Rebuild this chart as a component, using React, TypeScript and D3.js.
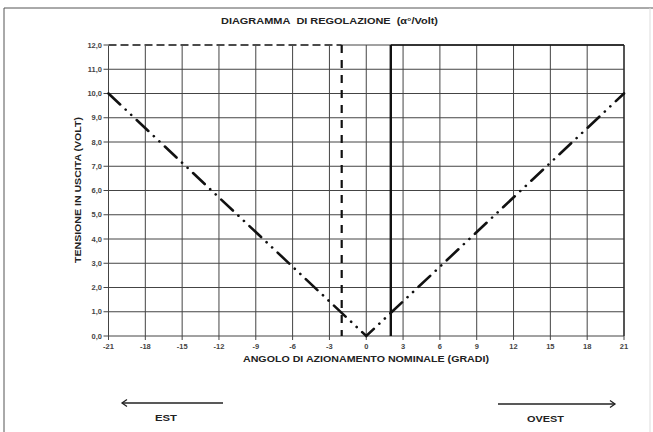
import React from 'react';
import * as d3 from 'd3';

// angle (degrees) -> output voltage, the V shaped characteristic
const curveAngles = [-21, 0, 21];
const curveVolts = [10, 0, 10];

const xTicks = [-21, -18, -15, -12, -9, -6, -3, 0, 3, 6, 9, 12, 15, 18, 21];
const yTicks = [0, 1, 2, 3, 4, 5, 6, 7, 8, 9, 10, 11, 12];

// limit lines
const limitDashed = -2;
const limitSolid = 2;

const W = 653;
const H = 432;
const font = '"Liberation Sans", Arial, sans-serif';

const App = () => {
  const x = d3.scaleLinear().domain([-21, 21]).range([108.5, 624]);
  const y = d3.scaleLinear().domain([0, 12]).range([336, 45]);

  const line = d3
    .line<number>()
    .x((d) => x(curveAngles[d]))
    .y((d) => y(curveVolts[d]));

  const fmtY = (v: number) => v.toFixed(1).replace('.', ',');

  // the scan is a bit wider than tall, so stretch the labels to fit
  const stretched = {
    fontFamily: font,
    fontWeight: 'bold',
    fill: '#222',
    lengthAdjust: 'spacingAndGlyphs',
  } as const;

  return (
    <div style={{ position: 'absolute', left: 0, top: 0 }}>
      <svg width={W} height={H} style={{ display: 'block', background: '#fff' }}>
        {/* frame of the scan */}
        <line x1={4} y1={8} x2={W} y2={8} stroke="#555" strokeWidth={1} />
        <line x1={4} y1={8} x2={4} y2={H} stroke="#555" strokeWidth={1} />
        <line x1={650} y1={8} x2={650} y2={H} stroke="#ddd" strokeWidth={1} />

        <text x={221} y={24} textLength={217} fontSize={9.5} {...stretched}>
          DIAGRAMMA&#160;&#160;DI REGOLAZIONE&#160;&#160;(α°/Volt)
        </text>

        {/* grid */}
        <g stroke="#444" strokeWidth={1}>
          {yTicks.map((t) => (
            <line key={'h' + t} x1={x(-21) - 5} x2={x(21)} y1={y(t)} y2={y(t)} />
          ))}
          {xTicks.map((t) => (
            <line key={'v' + t} x1={x(t)} x2={x(t)} y1={y(12)} y2={y(0) + 4} />
          ))}
        </g>

        {/* top border: dashed up to the dashed limit, heavy after the solid one */}
        <line x1={x(-21)} x2={x(limitDashed)} y1={y(12)} y2={y(12)} stroke="#fff" strokeWidth={2} />
        <line x1={x(-21)} x2={x(limitDashed)} y1={y(12)} y2={y(12)} stroke="#111" strokeWidth={1.4} strokeDasharray="8,4" />
        <line x1={x(limitSolid)} x2={x(21)} y1={y(12)} y2={y(12)} stroke="#111" strokeWidth={1.5} />
        <line x1={x(21)} x2={x(21)} y1={y(12)} y2={y(0)} stroke="#222" strokeWidth={1.2} />

        {/* limit lines */}
        <line x1={x(limitDashed)} x2={x(limitDashed)} y1={y(12)} y2={y(0)} stroke="#111" strokeWidth={2.2} strokeDasharray="8,7" />
        <line x1={x(limitSolid)} x2={x(limitSolid)} y1={y(12)} y2={y(0)} stroke="#111" strokeWidth={2.4} />

        {/* characteristic */}
        <path
          d={line(d3.range(curveAngles.length)) || ''}
          fill="none"
          stroke="#111"
          strokeWidth={2.6}
          strokeLinecap="round"
          strokeDasharray="16,7.5,0.1,7.5,0.1,7.5"
        />

        {/* tick labels */}
        <g fontFamily={font} fontWeight="bold" fontSize={7.5} fill="#444">
          {yTicks.map((t) => (
            <text key={'yl' + t} x={102} y={y(t)} dy="0.35em" textAnchor="end">
              {fmtY(t)}
            </text>
          ))}
          {xTicks.map((t) => (
            <text key={'xl' + t} x={x(t)} y={349} textAnchor="middle">
              {t}
            </text>
          ))}
        </g>

        <text x={243} y={362} textLength={246} fontSize={9.5} {...stretched}>
          ANGOLO DI AZIONAMENTO NOMINALE (GRADI)
        </text>
        <text transform={`translate(81,263) rotate(-90)`} textLength={146} fontSize={9.5} {...stretched}>
          TENSIONE IN USCITA (VOLT)
        </text>

        {/* direction arrows */}
        <g stroke="#222" strokeWidth={1.3} fill="none">
          <line x1={122} x2={223} y1={403} y2={403} />
          <polyline points="127,399.5 122,403 127,406.5" />
          <line x1={498} x2={615} y1={404} y2={404} />
          <polyline points="610,400.5 615,404 610,407.5" />
        </g>
        <text x={155} y={420.5} textLength={22} fontSize={9.5} {...stretched}>
          EST
        </text>
        <text x={527} y={421.5} textLength={37} fontSize={9.5} {...stretched}>
          OVEST
        </text>
      </svg>
    </div>
  );
};

export default App;
